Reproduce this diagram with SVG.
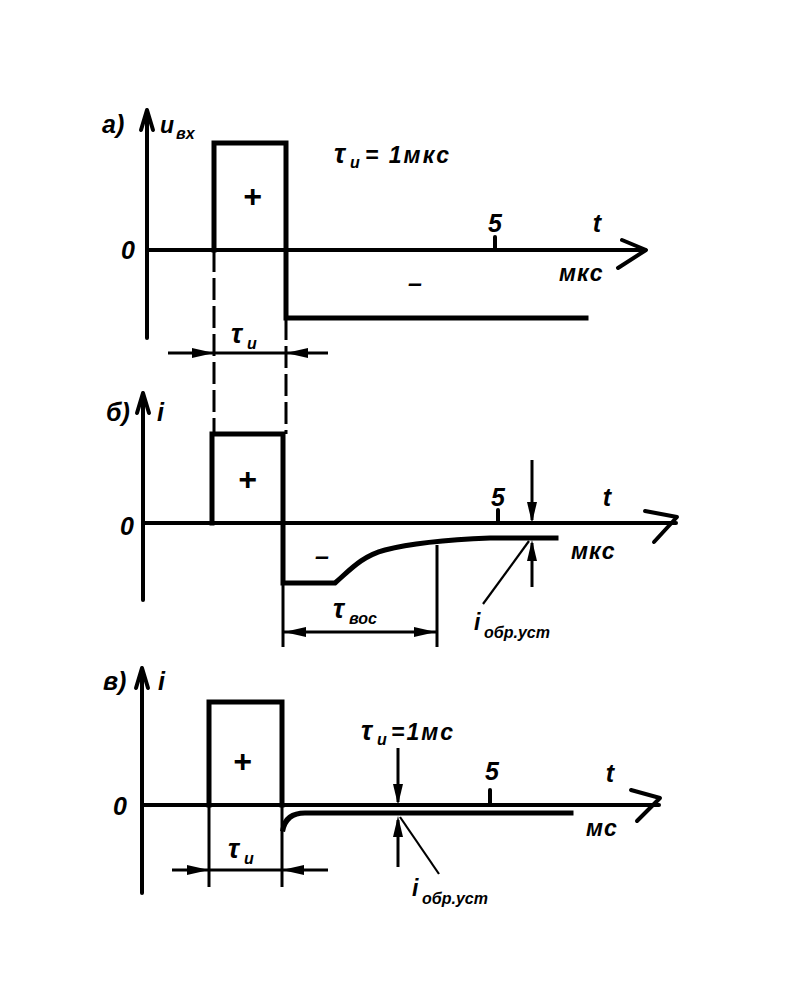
<svg xmlns="http://www.w3.org/2000/svg" width="789" height="986" viewBox="0 0 789 986">
<style>
.t{font-family:"Liberation Sans","DejaVu Sans",sans-serif;font-weight:bold;font-style:italic;fill:#000}
.s{font-size:16px}
.m{font-size:23px}
.l{font-size:25px}
.g{font-size:27px}
.p{font-size:32px}
.ax{stroke:#000;stroke-width:4;fill:none;stroke-linecap:round;stroke-linejoin:round}
.sig{stroke:#000;stroke-width:5;fill:none;stroke-linecap:square;stroke-linejoin:miter}
.ext{stroke:#000;stroke-width:3;fill:none}
.dash{stroke:#000;stroke-width:3;fill:none;stroke-dasharray:22 6}
.dim{stroke:#000;stroke-width:3;fill:none}
.ld{stroke:#000;stroke-width:2.2;fill:none}
.ah{fill:#000;stroke:none}
</style>
<rect width="789" height="986" fill="#fff"/>

<g id="panel-a">
  <g id="a-axes">
    <path class="ax" d="M147,338 V112"/>
    <path class="ax" d="M141,130 L147,110 L153,130"/>
    <path class="ax" d="M147,250 H645"/>
    <path class="ax" d="M622,240 L646,250 L618,268"/>
    <path class="ax" d="M495,237 V250"/>
  </g>
  <g id="a-signal">
    <path class="sig" d="M214,250 V143 H286 V318 H586"/>
  </g>
  <g id="a-labels">
    <text class="t l" x="102" y="133">а)</text>
    <text class="t m" x="160" y="133">u</text>
    <text class="t s" x="176" y="139">вх</text>
    <text class="t l" x="128" y="259" text-anchor="middle">0</text>
    <text class="t p" x="252" y="207" text-anchor="middle">+</text>
    <text class="t l" x="415" y="292" text-anchor="middle">–</text>
    <text class="t g" x="334" y="163">τ</text>
    <text class="t s" x="350" y="168">и</text>
    <text class="t m" x="365" y="163" letter-spacing="2">= 1мкс</text>
    <text class="t l" x="495" y="232" text-anchor="middle">5</text>
    <text class="t l" x="597" y="232" text-anchor="middle">t</text>
    <text class="t m" x="559" y="281" letter-spacing="1">мкс</text>
    <text class="t g" x="231" y="343">τ</text>
    <text class="t s" x="247" y="349">и</text>
  </g>
</g>

<g id="panel-b">
  <g id="b-axes">
    <path class="ax" d="M143,600 V395"/>
    <path class="ax" d="M137,413 L143,393 L149,413"/>
    <path class="ax" d="M143,523 H676"/>
    <path class="ax" d="M645,511 L677,517 L654,542"/>
    <path class="ax" d="M498,510 V523"/>
  </g>
  <g id="b-signal">
    <path class="sig" d="M212,523 V434 H283 V583 H335 C350,570 362,556 385,550 S440,540 490,538 L556,538"/>
  </g>
  <g id="b-labels">
    <text class="t l" x="106" y="421">б)</text>
    <text class="t l" x="157" y="421">i</text>
    <text class="t l" x="127" y="535" text-anchor="middle">0</text>
    <text class="t p" x="247" y="490" text-anchor="middle">+</text>
    <text class="t l" x="322" y="565" text-anchor="middle">–</text>
    <text class="t l" x="498" y="506" text-anchor="middle">5</text>
    <text class="t l" x="607" y="506" text-anchor="middle">t</text>
    <text class="t m" x="571" y="559" letter-spacing="1">мкс</text>
    <text class="t g" x="333" y="618">τ</text>
    <text class="t s" x="349" y="624">вос</text>
    <text class="t m" x="474" y="630">i</text>
    <text class="t s" x="484" y="638">обр.уст</text>
  </g>
</g>

<g id="panel-c">
  <g id="c-axes">
    <path class="ax" d="M142,893 V670"/>
    <path class="ax" d="M136,688 L142,668 L148,688"/>
    <path class="ax" d="M142,805 H659"/>
    <path class="ax" d="M631,790 L660,798 L637,821"/>
    <path class="ax" d="M490,790 V805"/>
  </g>
  <g id="c-signal">
    <path class="sig" d="M209,805 V702 H282 V805"/>
    <path class="sig" d="M283,829 C285,818 292,813 305,813 H571"/>
  </g>
  <g id="c-labels">
    <text class="t l" x="103" y="690">в)</text>
    <text class="t l" x="158" y="690">i</text>
    <text class="t l" x="120" y="815" text-anchor="middle">0</text>
    <text class="t p" x="242" y="772" text-anchor="middle">+</text>
    <text class="t g" x="361" y="740">τ</text>
    <text class="t s" x="377" y="745">и</text>
    <text class="t m" x="391" y="740" letter-spacing="2">=1мс</text>
    <text class="t l" x="492" y="780" text-anchor="middle">5</text>
    <text class="t l" x="610" y="782" text-anchor="middle">t</text>
    <text class="t m" x="586" y="836" letter-spacing="1">мс</text>
    <text class="t m" x="412" y="896">i</text>
    <text class="t s" x="422" y="904">обр.уст</text>
    <text class="t g" x="228" y="858">τ</text>
    <text class="t s" x="244" y="864">и</text>
  </g>
</g>

<g id="connectors">
  <path class="dash" d="M214,250 V434"/>
  <path class="dash" d="M286,318 V434"/>
  <path class="dim" d="M168,353 H328"/>
  <polygon class="ah" points="214,353 192,348 192,358"/>
  <polygon class="ah" points="286,353 308,348 308,358"/>

  <path class="ext" d="M283,583 V647"/>
  <path class="ext" d="M437,545 V647"/>
  <path class="dim" d="M283,632 H437"/>
  <polygon class="ah" points="284,632 306,627 306,637"/>
  <polygon class="ah" points="436,632 414,627 414,637"/>
  <path class="dim" d="M532,460 V520"/>
  <polygon class="ah" points="532,523 527,502 537,502"/>
  <path class="dim" d="M532,587 V543"/>
  <polygon class="ah" points="532,540 527,561 537,561"/>
  <path class="ld" d="M529,541 L483,604"/>

  <path class="ext" d="M209,805 V887"/>
  <path class="ext" d="M282,805 V887"/>
  <path class="dim" d="M172,870 H328"/>
  <polygon class="ah" points="209,870 187,865 187,875"/>
  <polygon class="ah" points="282,870 304,865 304,875"/>
  <path class="dim" d="M398,748 V802"/>
  <polygon class="ah" points="398,805 393,784 403,784"/>
  <path class="dim" d="M398,867 V820"/>
  <polygon class="ah" points="398,816 393,837 403,837"/>
  <path class="ld" d="M400,817 L439,874"/>
</g>
</svg>
